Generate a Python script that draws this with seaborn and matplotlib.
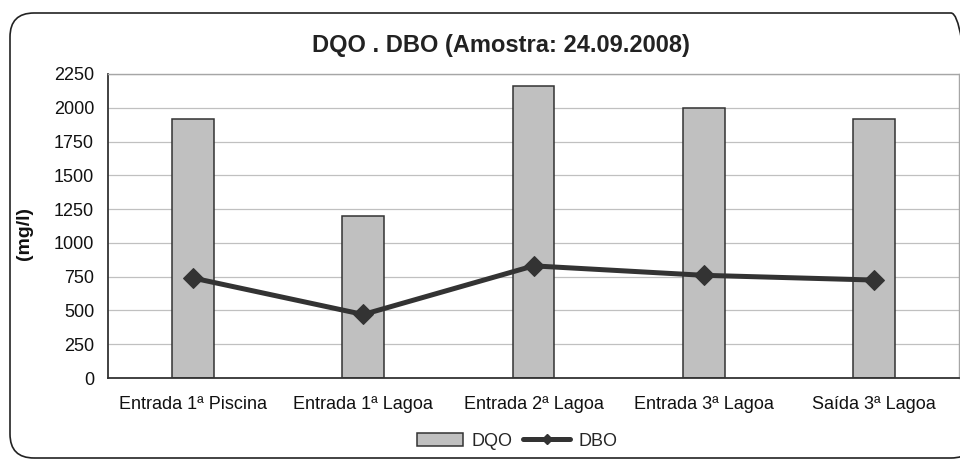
import matplotlib
matplotlib.use("Agg")
import matplotlib.pyplot as plt
from matplotlib.patches import FancyBboxPatch, Patch
from matplotlib.lines import Line2D
from matplotlib.transforms import IdentityTransform
import seaborn as sns
import pandas as pd

# Sampling points and measured values (mg/l)
categories = ["Entrada 1ª Piscina", "Entrada 1ª Lagoa", "Entrada 2ª Lagoa",
              "Entrada 3ª Lagoa", "Saída 3ª Lagoa"]
dqo = [1920, 1200, 2160, 2000, 1920]
dbo = [740, 470, 830, 760, 725]
y_ticks = [0, 250, 500, 750, 1000, 1250, 1500, 1750, 2000, 2250]

df = pd.DataFrame({"ponto": categories, "DQO": dqo, "DBO": dbo})

sns.set_style("white")
plt.rcParams["font.family"] = ["Liberation Sans", "DejaVu Sans"]

dark = "#333333"
grey_fill = "#c0c0c0"

fig = plt.figure(figsize=(9.6, 4.61), dpi=100)
ax = fig.add_axes([108 / 960, 1 - 378 / 461, 851 / 960, 304 / 461])

sns.barplot(data=df, x="ponto", y="DQO", ax=ax, color=grey_fill,
            saturation=1, width=0.245, edgecolor=dark, linewidth=1.1, zorder=2)
sns.lineplot(data=df, x="ponto", y="DBO", ax=ax, color=dark, linewidth=3.6,
             marker="D", markersize=10.5, markeredgecolor=dark,
             markerfacecolor=dark, sort=False, zorder=3)

ax.set_xlim(-0.5, len(categories) - 0.5)
ax.set_ylim(0, 2250)
ax.set_yticks(y_ticks)
ax.set_yticklabels([str(v) for v in y_ticks])
ax.set_xticks(range(len(categories)))
ax.set_xticklabels(categories)
ax.set_xticks([i - 0.5 for i in range(len(categories) + 1)], minor=True)

ax.set_xlabel("")
ax.set_ylabel("")

ax.yaxis.grid(True, color="#c0c0c0", linewidth=0.9, zorder=0)
ax.xaxis.grid(False)
ax.set_axisbelow(True)

for side in ("top", "right"):
    ax.spines[side].set_color("#a6a6a6")
    ax.spines[side].set_linewidth(1.0)
for side in ("left", "bottom"):
    ax.spines[side].set_color(dark)
    ax.spines[side].set_linewidth(1.3)

ax.tick_params(axis="y", which="major", direction="inout", length=8,
               width=1.0, color=dark, labelsize=13, pad=6, labelcolor="#111111")
ax.tick_params(axis="x", which="major", length=0, labelsize=13, pad=13,
               labelcolor="#111111")
ax.tick_params(axis="x", which="minor", direction="inout", length=9,
               width=1.0, color=dark)

fig.text(501 / 960, 1 - 52 / 461, "DQO . DBO (Amostra: 24.09.2008)",
         ha="center", va="baseline", fontsize=17, fontweight="bold",
         color="#222222")
fig.text(25 / 960, 1 - 233 / 461, "(mg/l)", rotation=90, ha="center",
         va="center", fontsize=14, fontweight="bold", color="#111111")

handles = [
    Patch(facecolor=grey_fill, edgecolor=dark, linewidth=1.1, label="DQO"),
    Line2D([0], [0], color=dark, linewidth=3.6, marker="D", markersize=5,
           label="DBO"),
]
fig.legend(handles=handles, loc="center", ncol=2,
           bbox_to_anchor=(517 / 960, 1 - 441 / 461), frameon=False,
           fontsize=13, handlelength=2.6, handletextpad=0.45,
           columnspacing=0.6, borderpad=0.2)

# Rounded outer frame of the chart area
frame = FancyBboxPatch((10, 3), 965, 445,
                       boxstyle="round,pad=0,rounding_size=24",
                       transform=IdentityTransform(), facecolor="none",
                       edgecolor="#222222", linewidth=1.2)
fig.add_artist(frame)

fig.savefig("out.png", dpi=100)
